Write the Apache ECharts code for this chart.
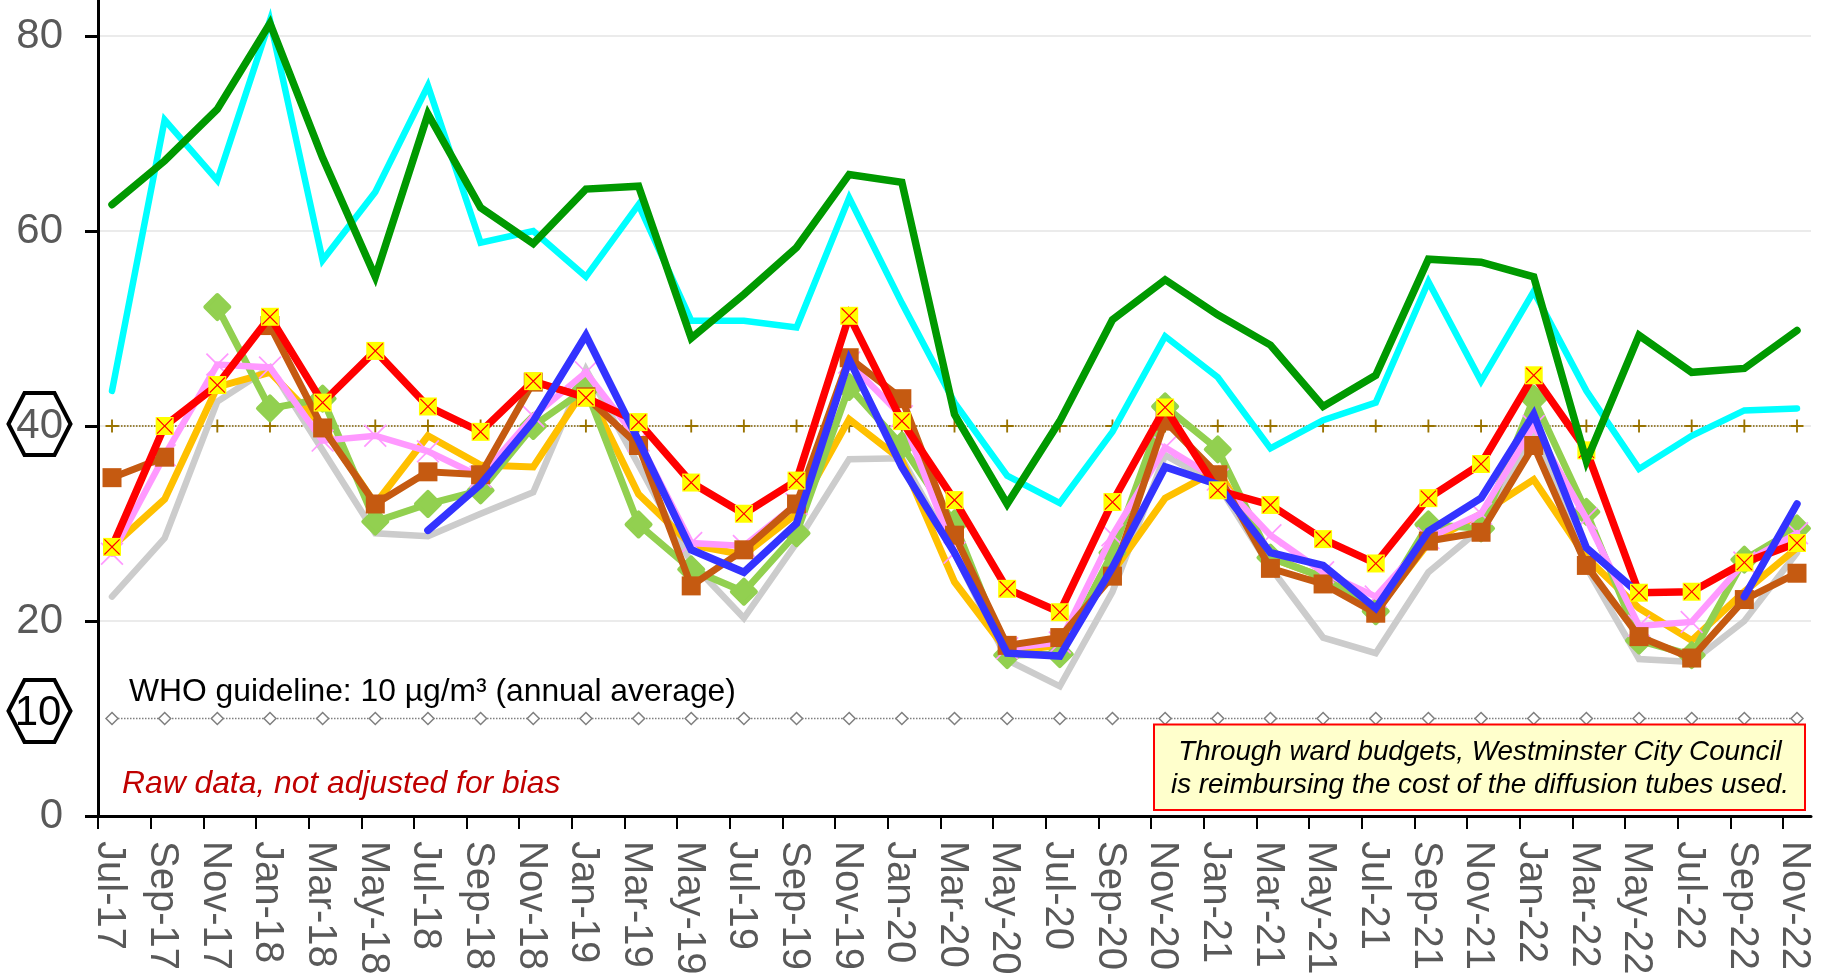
<!DOCTYPE html>
<html><head><meta charset="utf-8">
<style>html,body{margin:0;padding:0;background:#fff}#c{width:1828px;height:980px}</style>
<script src="https://cdn.jsdelivr.net/npm/echarts@6/dist/echarts.min.js"></script>
</head><body><div id="c"></div>
<script>
const categories = ['Jul-17','Sep-17','Nov-17','Jan-18','Mar-18','May-18','Jul-18','Sep-18','Nov-18','Jan-19','Mar-19','May-19','Jul-19','Sep-19','Nov-19','Jan-20','Mar-20','May-20','Jul-20','Sep-20','Nov-20','Jan-21','Mar-21','May-21','Jul-21','Sep-21','Nov-21','Jan-22','Mar-22','May-22','Jul-22','Sep-22','Nov-22'];
const yTicks = [0,20,40,60,80];
const darkGreen = [62.7,67.2,72.5,81.3,67.5,55.3,72,62.4,58.7,64.3,64.6,49,53.5,58.3,65.8,65,41.2,32,40.5,50.9,55,51.4,48.3,42,45.2,57.1,56.8,55.3,36.4,49.3,45.5,45.9,49.8];
const cyan = [43.6,71.4,65.2,81.6,57,64,74.9,58.8,60,55.3,62.7,50.8,50.8,50.1,63.4,52.6,42.4,34.9,32.1,39.4,49.2,45,37.7,40.6,42.4,54.8,44.6,53.8,43.6,35.6,39,41.6,41.8];
const red = [27.6,40,44.2,51.2,42.4,47.7,42,39.4,44.6,42.9,40.4,34.2,31,34.4,51.3,40.5,32.4,23.3,20.9,32.2,41.9,33.4,31.9,28.4,25.9,32.6,36.1,45.2,37.5,22.9,23,26,28];
const brown = [34.7,36.8,null,50.3,39.8,32,35.3,35,44.5,43,38,23.6,27.3,32,47,42.8,28.8,17.5,18.3,24.6,40.5,35,25.4,23.8,20.8,28.2,29.1,38,25.7,18.4,16.2,22.2,24.9];
const lightGreen = [null,null,52.2,41.8,42.8,30.2,32,33.4,40,43.8,29.9,25.3,23,29,44,38,30,16.5,16.6,27,42,37.6,26.5,24.5,21,29.9,29.5,42.8,31.2,18,16.5,26.3,29.5];
const violet = [26.9,37,46.3,46,38.5,39,37.4,34.8,41,45.5,38.5,28,27.7,32,46.5,41,27,17.2,17.8,28.8,37.8,34.5,28.8,25,22.5,28.5,31,40,30.5,19.5,19.9,26,29];
const orange = [27.6,32.5,44,45.5,40,32,39,36,35.8,44,33,27.8,26.8,31,40.7,36.5,24,16.9,17.5,25,32.6,35.5,26.5,24.5,21,28,31,34.5,26.5,21.3,18,23,27.5];
const gray = [22.5,28.5,42.5,46,37.5,29,28.7,31,33.2,45.8,36,26,20.3,28,36.6,36.7,27,16,13.3,23,37,34,25.5,18.3,16.7,25,29.5,39.5,25.5,16.1,15.8,20,27];
const blue = [null,null,null,null,null,null,29.3,34,40.5,49.3,38.5,27.3,25,30,46.8,35.8,27,16.7,16.4,25.5,35.8,34,27,25.7,21.3,29.2,32.6,41.2,27.5,22.8,null,22.5,32];
const limit40 = categories.map(() => 40);
const who10 = categories.map(() => 10);

const FONT = '"Liberation Sans", Arial, sans-serif';
const PAD = 0.266;
const LABEL_SHIFT = 0.05;
const pts = a => a.map((v,i) => [i, v]);
const plus = 'path://M-1,-7H1V-1H7V1H1V7H-1V1H-7V-1H-1Z';
const cross = 'path://M-7.6,-6.8L-6.8,-7.6L0,-0.8L6.8,-7.6L7.6,-6.8L0.8,0L7.6,6.8L6.8,7.6L0,0.8L-6.8,7.6L-7.6,6.8L-0.8,0Z';

function line(name, data, color, width, z, extra) {
  return Object.assign({
    name, type:'line', data:pts(data), z, showAllSymbol:true, symbol:'none', connectNulls:false,
    lineStyle:{color, width, cap:'round', join:'miter', miterLimit:8},
    itemStyle:{color}, emphasis:{disabled:true}, silent:true, animation:false
  }, extra||{});
}

const hex = (cx, cy) => ({
  type:'polygon', z:-1, silent:true,
  shape:{points:[[cx-31,cy],[cx-15,cy-31],[cx+15,cy-31],[cx+31,cy],[cx+15,cy+31],[cx-15,cy+31]]},
  style:{fill:'#fff', stroke:'#000', lineWidth:4}
});

const option = {
  backgroundColor:'#fff',
  animation:false,
  grid:{left:98, right:17, top:0, bottom:164, outerBoundsMode:'none'},
  xAxis:{
    type:'value', min:-PAD, max:categories.length-1+PAD,
    splitLine:{show:false},
    axisLine:{show:true, onZero:false, lineStyle:{color:'#000', width:3}},
    axisTick:{show:true, length:13, inside:false, customValues:categories.map((c,i)=>i-PAD), lineStyle:{color:'#000', width:2}},
    axisLabel:{rotate:-90, margin:25, fontSize:40, color:'#595959', fontFamily:FONT,
      customValues:categories.map((c,i)=>i-LABEL_SHIFT), formatter:v=>categories[Math.round(v)]}
  },
  yAxis:{
    type:'value', min:0, max:83.69,
    axisLine:{show:true, onZero:false, lineStyle:{color:'#000', width:3}},
    axisTick:{show:true, length:13, customValues:yTicks, lineStyle:{color:'#000', width:3}},
    axisLabel:{margin:35, fontSize:42, color:'#595959', fontFamily:FONT, customValues:yTicks, padding:[4,0,0,0]},
    splitLine:{show:true, lineStyle:{color:'#ebebeb', width:2}}
  },
  series:[
    line('40 limit', limit40, '#7f6000', 1.5, 2, {
      lineStyle:{color:'#7f6000', width:1.5, type:'dotted'}, symbol:plus, symbolSize:13, itemStyle:{color:'#997300'}}),
    line('10 guideline', who10, '#7f7f7f', 1.5, 2, {
      lineStyle:{color:'#7f7f7f', width:1.5, type:'dotted'}, symbol:'diamond', symbolSize:12,
      itemStyle:{color:'#fff', borderColor:'#7f7f7f', borderWidth:1.5}}),
    line('Grey', gray, '#cccccc', 6.5, 3),
    line('Orange', orange, '#ffc000', 7, 4),
    line('Light green', lightGreen, '#92d050', 7, 5, {symbol:'diamond', symbolSize:24, itemStyle:{color:'#92d050', borderColor:'#92d050', borderWidth:4, borderJoin:'round'}}),
    line('Violet', violet, '#ff99ff', 6.5, 6, {symbol:cross, symbolSize:23}),
    line('Brown', brown, '#c55a11', 7, 7, {symbol:'rect', symbolSize:19}),
    line('Red', red, '#ff0000', 7.5, 8),
    line('Blue', blue, '#3333ff', 7.5, 9),
    line('Red box', red, '#ffff00', 0, 10, {lineStyle:{width:0, opacity:0}, symbol:'rect', symbolSize:18, itemStyle:{color:'#ffff00'}}),
    line('Red cross', red, '#ff0000', 0, 11, {lineStyle:{width:0, opacity:0}, symbol:cross, symbolSize:16, itemStyle:{color:'#ff0000'}}),
    line('Cyan', cyan, '#00ffff', 6.5, 12),
    line('Dark green', darkGreen, '#009900', 7.5, 13)
  ],
  graphic:[
    hex(39.5,424), hex(39.5,711),
    {type:'text', z:20, silent:true, style:{x:38, y:713, text:'10', fill:'#000', font:'42px '+FONT, align:'center', verticalAlign:'middle'}},
    {type:'text', z:20, silent:true, style:{x:129, y:692, text:'WHO guideline: 10 µg/m³ (annual average)', fill:'#000', font:'31.8px '+FONT, verticalAlign:'middle'}},
    {type:'text', z:20, silent:true, style:{x:122, y:784, text:'Raw data, not adjusted for bias', fill:'#c00000', font:'italic 31.8px '+FONT, verticalAlign:'middle'}},
    {type:'rect', z:20, silent:true, shape:{x:1154, y:724.5, width:651, height:85.5}, style:{fill:'#ffffcc', stroke:'#ff0000', lineWidth:2}},
    {type:'text', z:21, silent:true, style:{x:1480, y:752, text:'Through ward budgets, Westminster City Council', fill:'#000', font:'italic 27.8px '+FONT, align:'center', verticalAlign:'middle'}},
    {type:'text', z:21, silent:true, style:{x:1480, y:785, text:'is reimbursing the cost of the diffusion tubes used.', fill:'#000', font:'italic 27.8px '+FONT, align:'center', verticalAlign:'middle'}}
  ]
};
echarts.init(document.getElementById('c'), null, {renderer:'canvas'}).setOption(option);
</script></body></html>
